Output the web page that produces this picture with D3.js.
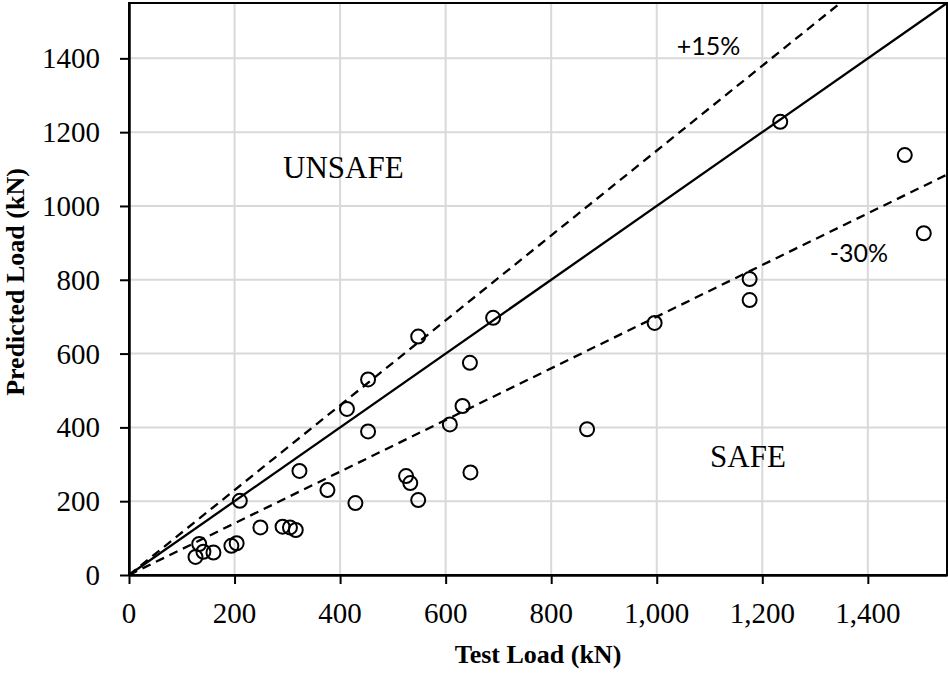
<!DOCTYPE html>
<html lang="en">
<head>
    <meta charset="UTF-8">
    <title>Predicted vs Test Load</title>
    <script src="https://cdnjs.cloudflare.com/ajax/libs/d3/7.8.5/d3.min.js" charset="utf-8"></script>
    <style>
        body { margin: 0; background: #fff; }
        .axis-title { font-family: "Liberation Serif", "Times New Roman", serif; font-size: 26px; font-weight: bold; }
        .zone { font-family: "Liberation Serif", "Times New Roman", serif; font-size: 31px; }
        .ticklab { font-family: "Liberation Serif", "Times New Roman", serif; font-size: 29px; fill: #000; }
        .pct { font-family: "Lato", "Noto Sans", sans-serif; font-size: 25px; }
    </style>
</head>
<body>
<svg height="674" width="948"></svg>
<script>
    // measured loads (kN)
    var testLoad = [126, 133, 141, 160, 194, 204, 210, 249, 291, 305, 316, 323, 376, 413, 429, 453, 453,
        525, 533, 548, 548, 608, 632, 646, 647, 690, 868, 996, 1176, 1176, 1234, 1470, 1506];
    var predictedLoad = [49, 84, 63, 61, 79, 86, 201, 129, 131, 129, 122, 282, 230, 450, 195, 530, 389,
        268, 249, 203, 646, 408, 458, 575, 278, 697, 395, 683, 802, 745, 1228, 1138, 926];

    var xTicks = [0, 200, 400, 600, 800, 1000, 1200, 1400];
    var yTicks = [0, 200, 400, 600, 800, 1000, 1200, 1400];

    // reference lines: predicted = factor * test
    var lineNames = ["1:1", "+15%", "-30%"];
    var lineFactors = [1, 1.15, 0.7];

    var maxLoad = 1550;

    var margin = {top: 3, right: 1, bottom: 99, left: 129};
    var width = 948 - margin.left - margin.right,
        height = 674 - margin.top - margin.bottom;

    var svg = d3.select("svg");
    var g = svg.append("g")
        .attr("transform", "translate(" + margin.left + "," + margin.top + ")");

    var x = d3.scaleLinear().domain([0, maxLoad]).range([0, width]);
    var y = d3.scaleLinear().domain([0, maxLoad]).range([height, 0]);

    // grid
    g.selectAll(".vgrid").data(xTicks.slice(1)).enter().append("line")
        .attr("x1", function (d) { return x(d); })
        .attr("x2", function (d) { return x(d); })
        .attr("y1", 0).attr("y2", height)
        .attr("stroke", "#d9d9d9").attr("stroke-width", 2);
    g.selectAll(".hgrid").data(yTicks.slice(1)).enter().append("line")
        .attr("y1", function (d) { return y(d); })
        .attr("y2", function (d) { return y(d); })
        .attr("x1", 0).attr("x2", width)
        .attr("stroke", "#d9d9d9").attr("stroke-width", 2);

    // frame
    g.append("rect")
        .attr("width", width).attr("height", height)
        .attr("fill", "none").attr("stroke", "#000").attr("stroke-width", 2);

    // reference lines, clipped to plot area
    svg.append("clipPath").attr("id", "clip").append("rect")
        .attr("width", width).attr("height", height);

    g.selectAll(".ref").data(lineFactors).enter().append("line")
        .attr("clip-path", "url(#clip)")
        .attr("x1", x(0)).attr("y1", y(0))
        .attr("x2", x(maxLoad))
        .attr("y2", function (d) { return y(maxLoad * d); })
        .attr("stroke", "#000")
        .attr("stroke-width", 2.3)
        .attr("stroke-dasharray", function (d) { return d === 1 ? null : "9,6"; });

    // axes (tick labels drawn separately in the serif font)
    var xAxis = d3.axisBottom(x).tickValues(xTicks).tickFormat("")
        .tickSizeInner(9).tickSizeOuter(0);
    var yAxis = d3.axisLeft(y).tickValues(yTicks).tickFormat("")
        .tickSizeInner(9).tickSizeOuter(0);

    var gx = g.append("g").attr("transform", "translate(0," + height + ")").call(xAxis);
    var gy = g.append("g").call(yAxis);
    [gx, gy].forEach(function (a) {
        a.select(".domain").attr("stroke", "#000").attr("stroke-width", 2.5);
        a.selectAll(".tick line").attr("stroke", "#000").attr("stroke-width", 2);
        a.selectAll(".tick text").remove();
    });

    var fmtX = d3.format(","), fmtY = d3.format("d");
    g.selectAll(".xlab").data(xTicks).enter().append("text")
        .attr("class", "ticklab")
        .attr("text-anchor", "middle")
        .attr("x", function (d) { return x(d); })
        .attr("y", height + 48)
        .text(function (d) { return fmtX(d); });
    g.selectAll(".ylab").data(yTicks).enter().append("text")
        .attr("class", "ticklab")
        .attr("text-anchor", "end")
        .attr("x", -29)
        .attr("y", function (d) { return y(d) + 10; })
        .text(function (d) { return fmtY(d); });

    // points
    g.selectAll(".pt").data(testLoad).enter().append("circle")
        .attr("cx", function (d) { return x(d); })
        .attr("cy", function (d, i) { return y(predictedLoad[i]); })
        .attr("r", 7)
        .attr("fill", "none")
        .attr("stroke", "#000")
        .attr("stroke-width", 2);

    // labels
    g.append("text").attr("class", "pct")
        .attr("x", x(1038)).attr("y", y(1408)).text(lineNames[1]);
    g.append("text").attr("class", "pct")
        .attr("x", x(1328)).attr("y", y(849)).text(lineNames[2]);
    g.append("text").attr("class", "zone")
        .attr("x", x(292)).attr("y", y(1076)).text("UNSAFE");
    g.append("text").attr("class", "zone")
        .attr("x", x(1101)).attr("y", y(293)).text("SAFE");

    // axis titles
    svg.append("text").attr("class", "axis-title")
        .attr("text-anchor", "middle")
        .attr("x", margin.left + width / 2).attr("y", 663)
        .text("Test Load (kN)");
    svg.append("text").attr("class", "axis-title")
        .attr("text-anchor", "middle")
        .attr("transform", "translate(24," + (margin.top + height / 2 - 7) + ") rotate(-90)")
        .text("Predicted Load (kN)");
</script>
</body>
</html>
